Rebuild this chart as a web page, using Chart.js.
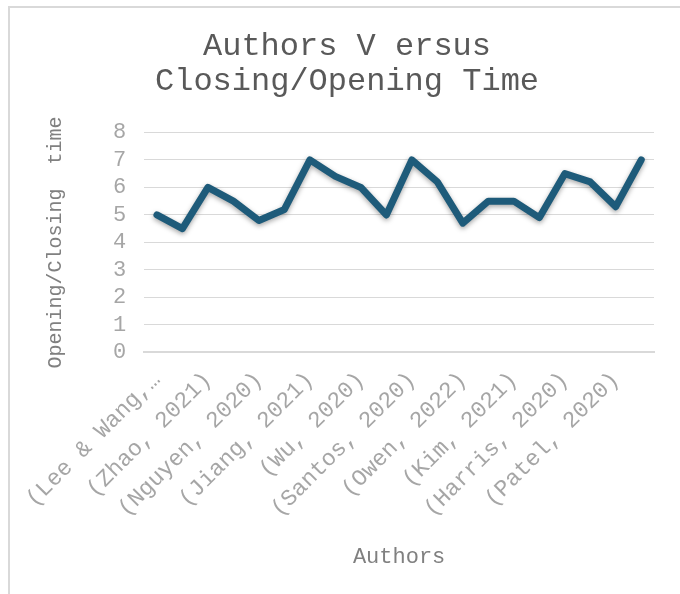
<!DOCTYPE html>
<html>
<head>
<meta charset="utf-8">
<script src="https://cdn.jsdelivr.net/npm/chart.js@4"></script>
<style>
  html, body { margin: 0; padding: 0; background: #fff; }
  #frame {
    position: absolute; left: 8px; top: 6px; width: 672px; height: 588px;
    border-left: 2px solid #d9d9d9; border-top: 2px solid #d9d9d9;
    box-sizing: border-box;
  }
  #wrap { position: absolute; left: 0; top: 0; width: 670px; height: 586px; }
</style>
</head>
<body>
<div id="frame"><div id="wrap"><canvas id="timeChart"></canvas></div></div>
<script>
// categories (odd entries are not labelled in the source chart)
const authors = [
  '(Lee & Wang,…', '', '(Zhao, 2021)', '', '(Nguyen, 2020)', '',
  '(Jiang, 2021)', '', '(Wu, 2020)', '', '(Santos, 2020)', '',
  '(Owen, 2022)', '', '(Kim, 2021)', '', '(Harris, 2020)', '',
  '(Patel, 2020)', ''
];
const times = [5, 4.5, 6, 5.5, 4.8, 5.2, 7, 6.4, 6, 5, 7, 6.2, 4.7, 5.5, 5.5, 4.9, 6.5, 6.2, 5.3, 7];
const yTicks = [0, 1, 2, 3, 4, 5, 6, 7, 8];

const mono = "'Liberation Mono', 'Courier New', monospace";

// soft shadow under the line, like the office chart
const lineShadow = {
  id: 'lineShadow',
  beforeDatasetDraw(chart) {
    const c = chart.ctx;
    c.save();
    c.shadowColor = 'rgba(0,0,0,0.35)';
    c.shadowBlur = 5;
    c.shadowOffsetY = 2;
  },
  afterDatasetDraw(chart) {
    chart.ctx.restore();
  }
};

const ctx = document.getElementById('timeChart').getContext('2d');
const timeChart = new Chart(ctx, {
  type: 'line',
  data: {
    labels: authors,
    datasets: [{
      label: 'Opening/Closing time',
      data: times,
      borderColor: '#1e5b7a',
      borderWidth: 7,
      borderJoinStyle: 'round',
      borderCapStyle: 'round',
      pointRadius: 0,
      tension: 0,
      fill: false
    }]
  },
  options: {
    responsive: true,
    maintainAspectRatio: false,
    animation: false,
    layout: { padding: { top: 21, left: 30, right: 26, bottom: 20 } },
    scales: {
      x: {
        offset: true,
        grid: { display: false },
        border: { color: '#d9d9d9', width: 2 },
        ticks: {
          autoSkip: false,
          minRotation: 45,
          maxRotation: 45,
          padding: 6,
          color: '#a6a6a6',
          font: { family: mono, size: 23 }
        },
        title: {
          display: true,
          text: 'Authors',
          color: '#808080',
          font: { family: mono, size: 22 },
          padding: { top: 15 }
        }
      },
      y: {
        min: 0,
        max: 8,
        afterBuildTicks: (axis) => { axis.ticks = yTicks.map(v => ({ value: v })); },
        grid: { color: '#d9d9d9', drawTicks: false },
        border: { display: false },
        ticks: {
          autoSkip: false,
          padding: 18,
          color: '#a6a6a6',
          font: { family: mono, size: 22 }
        },
        title: {
          display: true,
          text: 'Opening/Closing  time',
          color: '#808080',
          font: { family: mono, size: 20 },
          padding: { bottom: 27 }
        }
      }
    },
    plugins: {
      legend: { display: false },
      tooltip: { enabled: false },
      title: {
        display: true,
        text: ['Authors V ersus', 'Closing/Opening Time'],
        color: '#595959',
        font: { family: mono, size: 32, weight: 'normal', lineHeight: 1.1 },
        padding: { top: 0, bottom: 33 }
      }
    }
  },
  plugins: [lineShadow]
});
</script>
</body>
</html>
